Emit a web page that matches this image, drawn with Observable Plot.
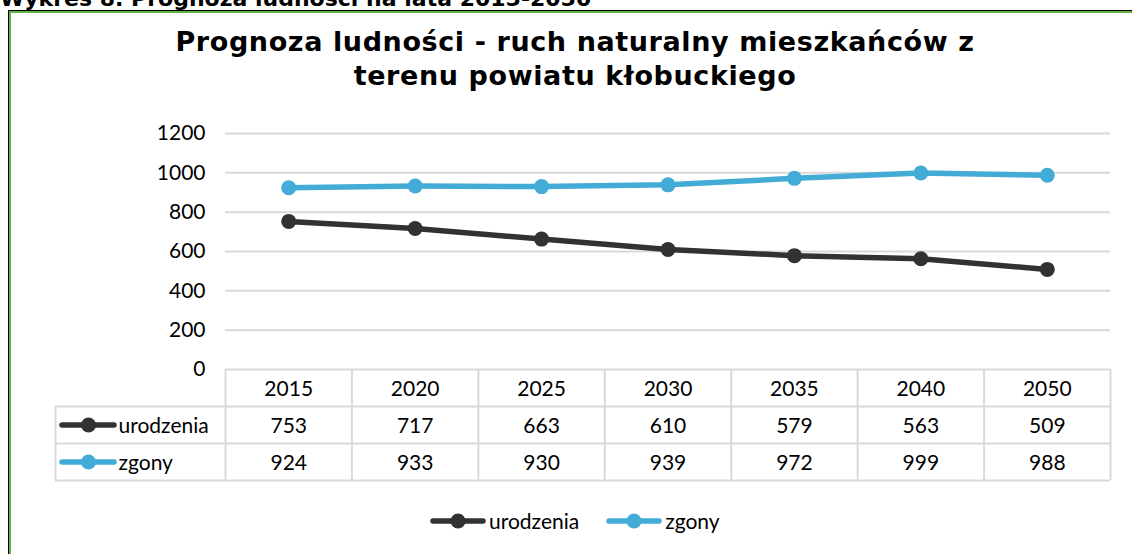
<!DOCTYPE html>
<html>
<head>
<meta charset="utf-8">
<script src="https://cdn.jsdelivr.net/npm/d3@7"></script>
<script src="https://cdn.jsdelivr.net/npm/@observablehq/plot@0.6"></script>
<style>
  html, body { margin: 0; padding: 0; background: #fff; overflow: hidden; }
  #page { position: relative; width: 1132px; height: 554px; overflow: hidden; background: #fff; }
  #header { position: absolute; left: 0; top: -12px; font: bold 22px/22px "DejaVu Sans", Verdana, sans-serif; color: #000; white-space: nowrap; }
  #frame { position: absolute; left: 8px; top: 10px; width: 1200px; height: 700px; border-left: 1px solid #000; border-top: 1px solid #000; box-shadow: inset 2px 2px 0 #62b246; }
  #title { position: absolute; left: 0; width: 1150px; top: 25px; text-align: center; font: bold 27px/34px "DejaVu Sans", Verdana, sans-serif; letter-spacing: 0.6px; color: #000; }
  #chart { position: absolute; left: 0; top: 0; }
  #legend { position: absolute; top: 508px; left: 430px; display: flex; align-items: center; font: 21px Lato, sans-serif; color: #000; }
  #legend .item { display: flex; align-items: center; margin-right: 27px; }
  #legend svg { margin-right: 3px; }
</style>
</head>
<body>
<div id="page">
  <div id="header">Wykres 8. Prognoza ludności na lata 2015-2050</div>
  <div id="frame"></div>
  <div id="chart"></div>
  <div id="title">Prognoza ludności - ruch naturalny mieszkańców z<br>terenu powiatu kłobuckiego</div>
  <div id="legend"></div>
</div>
<script>
const years = [2015, 2020, 2025, 2030, 2035, 2040, 2050];
const urodzenia = [753, 717, 663, 610, 579, 563, 509];
const zgony = [924, 933, 930, 939, 972, 999, 988];
const seriesNames = ["urodzenia", "zgony"];
const seriesColors = ["#333132", "#42acd6"];
const yTicks = [0, 200, 400, 600, 800, 1000, 1200];

const seriesValues = [urodzenia, zgony];
const data = seriesNames.flatMap((name, s) =>
  years.map((year, i) => ({series: name, year, i, value: seriesValues[s][i]})));

const W = 1132, H = 554;
const mL = 225, mR = 22, mT = 133, mB = 185;
const nCols = years.length;
// helpers to express table structure in scale units
const px2x = px => (px - mL) * nCols / (W - mL - mR);
const py2y = py => (H - mB - py) * 1200 / (H - mB - mT);
const rowH = 37;
const gridColor = "#d9d9d9";
const font = "Lato, sans-serif";

const colEdges = d3.range(nCols + 1);
const tableLeft = px2x(55);

const plot = Plot.plot({
  width: W, height: H,
  marginLeft: mL, marginRight: mR, marginTop: mT, marginBottom: mB,
  style: {fontFamily: font, fontSize: "21px", color: "#000", background: "transparent"},
  x: {type: "linear", domain: [0, nCols], axis: null},
  y: {domain: [0, 1200], ticks: yTicks, tickSize: 0, tickPadding: 20, label: null, tickFormat: d => String(d)},
  color: {domain: seriesNames, range: seriesColors},
  marks: [
    // gridlines
    Plot.ruleY(yTicks.filter(d => d > 0), {x1: 0, x2: nCols, stroke: gridColor, strokeWidth: 2}),
    // table horizontal lines
    Plot.ruleY([0], {x1: 0, x2: nCols, stroke: gridColor, strokeWidth: 2}),
    ...[1, 2, 3].map(k => Plot.ruleY([0], {x1: tableLeft, x2: nCols, dy: rowH * k, stroke: gridColor, strokeWidth: 2})),
    // table vertical lines
    Plot.ruleX(colEdges, {y1: 0, y2: py2y(H - mB + 3 * rowH), stroke: gridColor, strokeWidth: 2}),
    Plot.ruleX([tableLeft], {y1: py2y(H - mB + rowH), y2: py2y(H - mB + 3 * rowH), stroke: gridColor, strokeWidth: 2}),
    // series lines & dots
    Plot.line(data, {x: d => d.i + 0.5, y: "value", z: "series", stroke: "series", strokeWidth: 5.5, strokeLinecap: "round", strokeLinejoin: "round"}),
    Plot.dot(data, {x: d => d.i + 0.5, y: "value", fill: "series", r: 7.5}),
    // table: years row
    Plot.text(years, {x: (d, i) => i + 0.5, y: () => 0, dy: rowH / 2 + 1, text: d => String(d), fontSize: 21, fill: "#000"}),
    // table: value rows
    ...seriesNames.map((name, s) =>
      Plot.text(data.filter(d => d.series === name), {x: d => d.i + 0.5, y: () => 0, text: d => String(d.value), fontSize: 21, fill: "#000", dy: rowH * (s + 1.5) + 1})),
    // table legend column
    ...seriesNames.map((name, s) => [
      Plot.ruleY([0], {x1: px2x(62), x2: px2x(114), stroke: seriesColors[s], strokeWidth: 5.5, strokeLinecap: "round", dy: rowH * (s + 1.5)}),
      Plot.dot([0], {x: px2x(88), y: d => d, fill: seriesColors[s], r: 7.5, dy: rowH * (s + 1.5)}),
      Plot.text([name], {x: px2x(118), y: () => 0, text: d => d, textAnchor: "start", fontSize: 21, fill: "#000", dy: rowH * (s + 1.5) + 1})
    ]).flat()
  ]
});
document.getElementById("chart").appendChild(plot);

// bottom legend
const legend = d3.select("#legend");
seriesNames.forEach((name, s) => {
  const item = legend.append("div").attr("class", "item");
  const svg = item.append("svg").attr("width", 56).attr("height", 18);
  svg.append("line").attr("x1", 3).attr("x2", 53).attr("y1", 9).attr("y2", 9)
    .attr("stroke", seriesColors[s]).attr("stroke-width", 5.5).attr("stroke-linecap", "round");
  svg.append("circle").attr("cx", 28).attr("cy", 9).attr("r", 7.5).attr("fill", seriesColors[s]);
  item.append("span").text(name);
});
</script>
</body>
</html>
